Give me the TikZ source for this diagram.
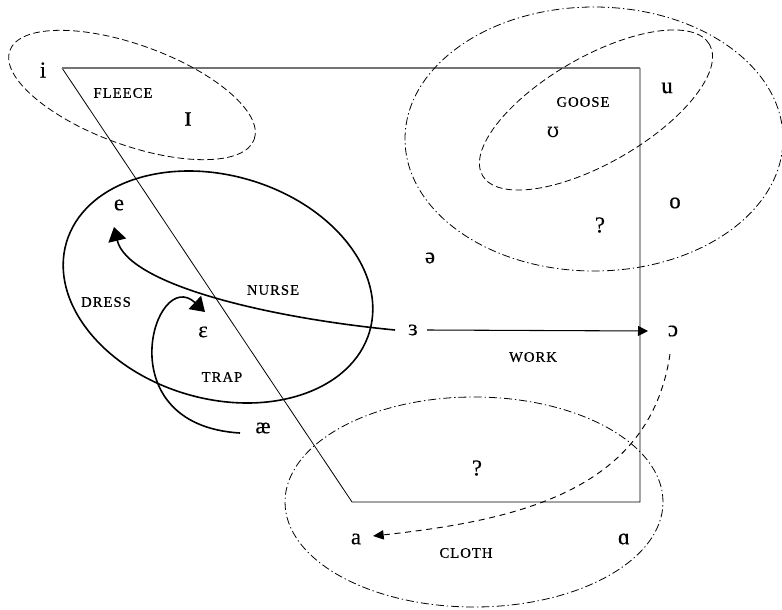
\documentclass[tikz,border=0pt]{standalone}
\usepackage{fontspec}
\setmainfont{Liberation Serif}
\newfontfamily\labfont[LetterSpace=7,FakeBold=0.6]{Liberation Serif}
\newfontfamily\ipafont[FakeBold=0.5]{Liberation Serif}
\newfontfamily\ipaalt{DejaVu Serif}
\usetikzlibrary{arrows.meta}
\begin{document}
\begin{tikzpicture}[x=0.75pt,y=-0.75pt,
  ipa/.style={inner sep=0pt, font=\ipafont\fontsize{17}{19}\selectfont},
  lab/.style={inner sep=0pt, font=\labfont\fontsize{11}{13}\selectfont},
  quad/.style={line width=0.6pt},
  topedge/.style={line width=1.2pt, draw=black!55},
  dashedE/.style={line width=0.6pt, dash pattern=on 5pt off 2.5pt},
  dashdotE/.style={line width=0.6pt, dash pattern=on 6pt off 2.2pt on 1pt off 2.2pt},
  solidE/.style={line width=1.2pt},
  thickarrow/.style={line width=1.2pt, -{Triangle[length=10.5pt,width=13.5pt]}},
  thinarrow/.style={line width=0.8pt, -{Triangle[length=7.5pt,width=7.5pt]}},
  dasharrow/.style={line width=0.7pt, dash pattern=on 4.5pt off 3.5pt, -{Triangle[length=8pt,width=7pt]}}
]
\useasboundingbox (0,0) rectangle (782,610);

% vowel quadrilateral
\coordinate (qa) at (62,68);
\coordinate (qb) at (640,68);
\coordinate (qc) at (640,502);
\coordinate (qd) at (352,502);
\draw[quad] (qb) -- (qc) -- (qd) -- (qa);
\draw[topedge] (qa) -- (qb);

% ellipses
\draw[dashedE, rotate around={-20:(132,95)}] (132,95) ellipse [x radius=97.5pt, y radius=37.5pt];
\draw[dashedE, rotate around={30:(596,110)}] (596,110) ellipse [x radius=98.3pt, y radius=39.8pt];
\draw[dashdotE] (594,139) ellipse [x radius=141.75pt, y radius=99pt];
\draw[solidE, rotate around={-16.4:(218,287)}] (218,287) ellipse [x radius=118.5pt, y radius=83.7pt];
\draw[dashdotE] (474,502) ellipse [x radius=141.75pt, y radius=78.75pt];

% texts
\node[ipa] (i) at (43,70) {i};
\node[lab] (fleece) at (123,93) {FLEECE};
\node[ipa, font=\ipafont\fontsize{22}{24}\selectfont] (I) at (188,119) {ɪ};
\node[lab] (goose) at (583,102) {GOOSE};
\node[ipa, font=\ipaalt\fontsize{15}{17}\selectfont] (hu) at (553,132) {ʊ};
\node[ipa] (u) at (667,88) {u};
\node[ipa] (o) at (675,203) {o};
\node[ipa] (qm1) at (600,225) {?};
\node[ipa] (schwa) at (430,258) {ə};
\node[ipa] (e) at (119,205) {e};
\node[lab] (dress) at (106,302) {DRESS};
\node[lab] (nurse) at (273,290) {NURSE};
\node[ipa] (eps) at (203,332) {ɛ};
\node[lab] (trap) at (222,377) {TRAP};
\node[ipa] (ae) at (263,428) {æ};
\node[ipa] (er) at (413,330) {ɜ};
\node[ipa] (aw) at (673,331) {ɔ};
\node[lab] (work) at (533,357) {WORK};
\node[ipa] (qm2) at (477,468) {?};
\node[ipa] (a) at (356,539) {a};
\node[lab] (cloth) at (466,553) {CLOTH};
\node[ipa] (alpha) at (624,539) {ɑ};

% arrows
\draw[thickarrow] ([shift={(-18,0)}]er.center) .. controls (270,318) and (128,285) .. ([shift={(-5,22)}]e.center);
\draw[thickarrow] ([shift={(-23,5)}]ae.center) .. controls (105,425) and (155,265) .. ([shift={(2,-20)}]eps.center);
\draw[thinarrow] ([shift={(14,0)}]er.center) -- ([shift={(-25,0)}]aw.center);
\draw[dasharrow] ([shift={(-3,23)}]aw.center) .. controls (650,490) and (520,520) .. ([shift={(17,-3)}]a.center);
\end{tikzpicture}
\end{document}
